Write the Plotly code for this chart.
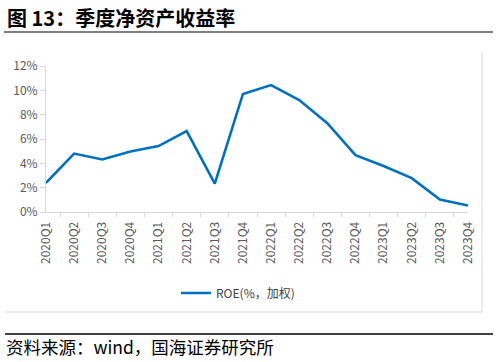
import plotly.graph_objects as go

quarters = ["2020Q1", "2020Q2", "2020Q3", "2020Q4", "2021Q1", "2021Q2", "2021Q3", "2021Q4",
            "2022Q1", "2022Q2", "2022Q3", "2022Q4", "2023Q1", "2023Q2", "2023Q3", "2023Q4"]
roe = [2.39, 4.8, 4.32, 4.98, 5.42, 6.65, 2.34, 9.7,
       10.43, 9.2, 7.3, 4.67, 3.78, 2.78, 1.02, 0.53]
series_name = "ROE(%，加权)"
title_text = "<b>图 13：季度净资产收益率</b>"
source_text = "资料来源：wind，国海证券研究所"

W, H = 498, 362
L, R, T, B = 46, 30, 66, 150
PW, PH = W - L - R, H - T - B

def px(x):
    return (x - L) / PW

def py(y):
    return (H - B - y) / PH

font = "Noto Sans CJK SC, Microsoft YaHei, sans-serif"
axis_gray = "#d9d9d9"

fig = go.Figure()
fig.add_trace(go.Scatter(
    x=quarters, y=roe, mode="lines", name=series_name,
    line=dict(color="#0070c0", width=2.6),
))

fig.update_layout(
    width=W, height=H,
    margin=dict(l=L, r=R, t=T, b=B, autoexpand=False),
    paper_bgcolor="white", plot_bgcolor="white",
    font=dict(family=font, size=12, color="#595959"),
    showlegend=True,
    legend=dict(orientation="h", x=px(238), y=py(293), xanchor="center", yanchor="middle",
                font=dict(size=12, color="#404040"), bgcolor="rgba(0,0,0,0)"),
    xaxis=dict(type="category", tickson="boundaries", ticks="outside", ticklen=4,
               tickcolor=axis_gray, showline=True, linecolor=axis_gray, linewidth=1,
               showgrid=False, tickangle=-90, tickfont=dict(size=12, color="#595959"),
               ticklabelstandoff=4, fixedrange=True),
    yaxis=dict(range=[0, 12], dtick=2, ticksuffix="%", ticks="outside", ticklen=5,
               tickcolor=axis_gray, showline=True, linecolor=axis_gray, linewidth=1,
               showgrid=False, zeroline=False, tickfont=dict(size=12, color="#595959"),
               fixedrange=True),
)

shapes = [
    # title underline
    dict(type="line", xref="paper", yref="paper", x0=px(4), x1=px(493), y0=py(32), y1=py(32),
         line=dict(color="#7f7f7f", width=2)),
    # chart frame right and bottom
    dict(type="line", xref="paper", yref="paper", x0=px(482), x1=px(482), y0=py(52), y1=py(312),
         line=dict(color="#d9d9d9", width=1)),
    dict(type="line", xref="paper", yref="paper", x0=px(5), x1=px(482), y0=py(312), y1=py(312),
         line=dict(color="#d9d9d9", width=1)),
    # source line
    dict(type="line", xref="paper", yref="paper", x0=px(5), x1=px(493), y0=py(334), y1=py(334),
         line=dict(color="black", width=1.5)),
]
fig.update_layout(shapes=shapes)

fig.add_annotation(text=title_text, xref="paper", yref="paper", x=px(5), y=py(17),
                   xanchor="left", yanchor="middle", showarrow=False,
                   font=dict(family=font, size=20, color="black"))
fig.add_annotation(text=source_text, xref="paper", yref="paper", x=px(4), y=py(346),
                   xanchor="left", yanchor="middle", showarrow=False,
                   font=dict(family=font, size=17.5, color="black"))

fig.write_html("out.html", config={"displayModeBar": False},
               post_script="document.body.style.margin='0';")
